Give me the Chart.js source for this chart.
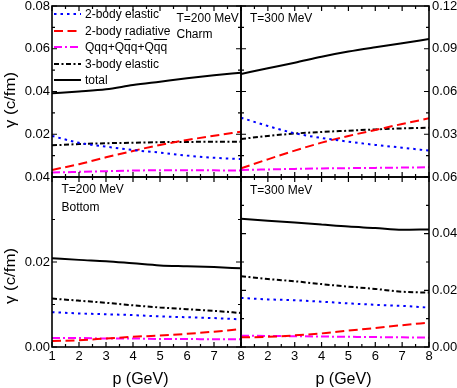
<!DOCTYPE html>
<html>
<head>
<meta charset="utf-8">
<script src="https://cdn.jsdelivr.net/npm/chart.js@4.4.1/dist/chart.umd.min.js"></script>
<style>
	body { margin: 0; background: #fff; overflow: hidden; }
	#fig { position: relative; width: 457px; height: 388px; font-family: "Liberation Sans", Arial, sans-serif; color: #000; }
	#fig canvas { position: absolute; left: 0; top: 0; }
	.note { position: absolute; font-size: 12px; line-height: 14px; white-space: nowrap; }
	.xtitle { position: absolute; font-size: 16px; line-height: 20px; white-space: nowrap; transform: translateX(-50%); }
	.ytitle { position: absolute; font-size: 15px; line-height: 16px; white-space: nowrap; transform: translate(-50%, -50%) rotate(-90deg) scaleX(1.12); }
	.legend { position: absolute; left: 54px; top: 6px; font-size: 12px; }
	.legend .row { display: flex; align-items: center; height: 16.5px; white-space: nowrap; }
	.legend svg { margin-right: 4px; }
	.bar { text-decoration: overline; }
</style>
</head>
<body>
<div id="fig">
	<canvas id="c200" width="457" height="388"></canvas>
	<canvas id="c300" width="457" height="388"></canvas>
	<canvas id="b200" width="457" height="388"></canvas>
	<canvas id="b300" width="457" height="388"></canvas>

	<div class="legend" id="legend"></div>

	<div class="note" style="left:176.5px; top:10.5px">T=200 MeV</div>
	<div class="note" style="left:176.5px; top:27.3px">Charm</div>
	<div class="note" style="left:250px; top:11.3px">T=300 MeV</div>
	<div class="note" style="left:61.5px; top:182.3px">T=200 MeV</div>
	<div class="note" style="left:61.5px; top:199.8px">Bottom</div>
	<div class="note" style="left:250px; top:183.3px">T=300 MeV</div>

	<div class="ytitle" style="left:9.5px; top:100px">γ (c/fm)</div>
	<div class="ytitle" style="left:9.5px; top:276px">γ (c/fm)</div>
	<div class="xtitle" style="left:140.5px; top:368.5px">p (GeV)</div>
	<div class="xtitle" style="left:343.5px; top:368.5px">p (GeV)</div>
</div>

<script>
	// momentum grid (GeV)
	const momentum = [1, 2, 3, 4, 5, 6, 7, 8]

	// x tick labels of the two bottom panels
	const pLabelsLeft = ["1", "2", "3", "4", "5", "6", "7", "8"]
	const pLabelsRight = ["2", "3", "4", "5", "6", "7", "8"]

	// y tick labels shown by each panel (0.00 of the upper row is hidden by the lower row)
	const yLabelsCharm200 = ["0.02", "0.04", "0.06", "0.08"]
	const yLabelsCharm300 = ["0.03", "0.06", "0.09", "0.12"]
	const yLabelsBottom200 = ["0.00", "0.02", "0.04"]
	const yLabelsBottom300 = ["0.00", "0.02", "0.04", "0.06"]

	// Charm, T = 200 MeV
	const charm200Elastic = [0.0192, 0.0160, 0.0142, 0.0126, 0.0114, 0.0100, 0.0090, 0.0084]
	const charm200Radiative = [0.0033, 0.0060, 0.0092, 0.0122, 0.0150, 0.0173, 0.0193, 0.0212]
	const charm200Qqq = [0.0021, 0.0024, 0.0027, 0.0030, 0.0032, 0.0032, 0.0031, 0.0030]
	const charm200ThreeBody = [0.0148, 0.0154, 0.0158, 0.0160, 0.0163, 0.0164, 0.0165, 0.0165]
	const charm200Total = [0.0392, 0.0400, 0.0410, 0.0430, 0.0446, 0.0462, 0.0476, 0.0488]

	// Charm, T = 300 MeV
	const charm300Elastic = [0.0416, 0.0358, 0.0307, 0.0274, 0.0248, 0.0225, 0.0206, 0.0185]
	const charm300Radiative = [0.0061, 0.0124, 0.0185, 0.0241, 0.0288, 0.0330, 0.0372, 0.0412]
	const charm300Qqq = [0.0049, 0.0053, 0.0057, 0.0060, 0.0062, 0.0064, 0.0066, 0.0068]
	const charm300ThreeBody = [0.0267, 0.0288, 0.0305, 0.0316, 0.0325, 0.0334, 0.0341, 0.0346]
	const charm300Total = [0.0723, 0.0763, 0.0802, 0.0844, 0.0880, 0.0910, 0.0938, 0.0968]

	// Bottom, T = 200 MeV
	const bottom200Elastic = [0.0082, 0.0079, 0.0077, 0.0075, 0.0072, 0.0070, 0.0068, 0.0065]
	const bottom200Radiative = [0.0014, 0.0016, 0.0020, 0.0024, 0.0027, 0.0031, 0.0036, 0.0042]
	const bottom200Qqq = [0.0021, 0.0021, 0.0020, 0.0020, 0.0019, 0.0019, 0.0018, 0.0018]
	const bottom200ThreeBody = [0.0114, 0.0109, 0.0104, 0.0098, 0.0093, 0.0089, 0.0085, 0.0080]
	const bottom200Total = [0.0209, 0.0205, 0.0202, 0.0197, 0.0192, 0.0190, 0.0188, 0.0185]

	// Bottom, T = 300 MeV
	const bottom300Elastic = [0.0173, 0.0168, 0.0165, 0.0160, 0.0154, 0.0149, 0.0145, 0.0139]
	const bottom300Radiative = [0.0034, 0.0036, 0.0041, 0.0048, 0.0058, 0.0067, 0.0077, 0.0086]
	const bottom300Qqq = [0.0040, 0.0039, 0.0038, 0.0037, 0.0036, 0.0035, 0.0034, 0.0033]
	const bottom300ThreeBody = [0.0250, 0.0240, 0.0232, 0.0222, 0.0213, 0.0205, 0.0195, 0.0192]
	const bottom300Total = [0.0453, 0.0446, 0.0439, 0.0432, 0.0425, 0.0420, 0.0414, 0.0415]

	const FONT = "'Liberation Sans', Arial, sans-serif"
	const W = 457
	const H = 388

	// one style per process, same order as the series lists below
	const styles = [
		{ label: "2-body elastic", html: "2-body elastic", color: "#0000ff", dash: [2.5, 4] },
		{ label: "2-body radiative", html: "2-body radiative", color: "#ff0000", dash: [9, 4.5] },
		{ label: "Qqq+Qq\u0305q+Qq\u0305q\u0305", html: "Qqq+Q<span class=\"bar\">q</span>q+Q<span class=\"bar\">qq</span>", color: "#ff00ff", dash: [8, 3, 2, 3] },
		{ label: "3-body elastic", html: "3-body elastic", color: "#000000", dash: [5, 2.5, 2, 2.5] },
		{ label: "total", html: "total", color: "#000000", dash: [] },
	]

	// frame around the plot area plus inward ticks on all four sides
	const frameTicks = {
		id: "frameTicks",
		afterDatasetsDraw(chart, args, opts) {
			const { ctx, chartArea: a } = chart
			const x = chart.scales.x
			const y = chart.scales.y
			ctx.save()
			ctx.strokeStyle = "#000"
			ctx.lineWidth = 1.2
			ctx.beginPath()
			for (let i = 0; x.min + i * 0.5 <= x.max + 1e-9; i++) {
				const px = x.getPixelForValue(x.min + i * 0.5)
				const len = i % 2 === 0 ? 5 : 3
				ctx.moveTo(px, a.bottom)
				ctx.lineTo(px, a.bottom - len)
				ctx.moveTo(px, a.top)
				ctx.lineTo(px, a.top + len)
			}
			const half = opts.yStep / 2
			for (let i = 0; i * half <= y.max + 1e-9; i++) {
				const py = y.getPixelForValue(i * half)
				const len = i % 2 === 0 ? 5 : 3
				ctx.moveTo(a.left, py)
				ctx.lineTo(a.left + len, py)
				ctx.moveTo(a.right, py)
				ctx.lineTo(a.right - len, py)
			}
			ctx.stroke()
			ctx.lineWidth = 1.6
			ctx.strokeRect(a.left, a.top, a.right - a.left, a.bottom - a.top)
			ctx.restore()
		},
	}

	function makePanel(id, box, series, yMax, yStep, yLabels, ySide, xLabels) {
		const yWidth = ySide === "left" ? 40 : 28
		const xHeight = xLabels ? 20 : 0
		const padding = {
			left: ySide === "left" ? box.left - yWidth : box.left,
			right: ySide === "right" ? W - box.right - yWidth : W - box.right,
			top: box.top,
			bottom: H - box.bottom - xHeight,
		}

		const datasets = series.map((values, i) => ({
			label: styles[i].label,
			data: momentum.map((p, j) => ({ x: p, y: values[j] })),
			borderColor: styles[i].color,
			backgroundColor: styles[i].color,
			borderDash: styles[i].dash,
			borderWidth: 2,
			pointRadius: 0,
			cubicInterpolationMode: "monotone",
			fill: false,
		}))

		return new Chart(document.getElementById(id), {
			type: "line",
			data: { datasets },
			plugins: [frameTicks],
			options: {
				responsive: false,
				animation: false,
				devicePixelRatio: 1,
				layout: { padding },
				plugins: {
					legend: { display: false },
					tooltip: { enabled: false },
					frameTicks: { yStep },
				},
				scales: {
					x: {
						type: "linear",
						min: 1,
						max: 8,
						grid: { display: false, drawTicks: false },
						border: { display: false },
						ticks: {
							display: !!xLabels,
							stepSize: 1,
							padding: 2,
							autoSkip: false,
							maxRotation: 0,
							color: "#000",
							font: { family: FONT, size: 13 },
							callback: (v) => (xLabels && xLabels.includes(String(v)) ? String(v) : ""),
						},
						afterFit: (s) => {
							s.height = xHeight
							s.paddingLeft = 0
							s.paddingRight = 0
						},
					},
					y: {
						type: "linear",
						position: ySide,
						min: 0,
						max: yMax,
						grid: { display: false, drawTicks: false },
						border: { display: false },
						ticks: {
							stepSize: yStep,
							padding: ySide === "left" ? 2 : 3,
							color: "#000",
							font: { family: FONT, size: 13 },
							callback: (v) => {
								const t = Number(v).toFixed(2)
								return yLabels.includes(t) ? t : ""
							},
						},
						afterFit: (s) => {
							s.width = yWidth
							s.paddingTop = 0
							s.paddingBottom = 0
						},
					},
				},
			},
		})
	}

	makePanel("c200", { left: 52, right: 241, top: 6, bottom: 177 },
		[charm200Elastic, charm200Radiative, charm200Qqq, charm200ThreeBody, charm200Total],
		0.08, 0.02, yLabelsCharm200, "left", null)

	makePanel("c300", { left: 241, right: 429, top: 6, bottom: 177 },
		[charm300Elastic, charm300Radiative, charm300Qqq, charm300ThreeBody, charm300Total],
		0.12, 0.03, yLabelsCharm300, "right", null)

	makePanel("b200", { left: 52, right: 241, top: 177, bottom: 347 },
		[bottom200Elastic, bottom200Radiative, bottom200Qqq, bottom200ThreeBody, bottom200Total],
		0.04, 0.02, yLabelsBottom200, "left", pLabelsLeft)

	makePanel("b300", { left: 241, right: 429, top: 177, bottom: 347 },
		[bottom300Elastic, bottom300Radiative, bottom300Qqq, bottom300ThreeBody, bottom300Total],
		0.06, 0.02, yLabelsBottom300, "right", pLabelsRight)

	// legend in the upper left panel, built from the same styles
	const legend = document.getElementById("legend")
	styles.forEach((s) => {
		const row = document.createElement("div")
		row.className = "row"
		const dash = s.dash.length ? ` stroke-dasharray="${s.dash.join(" ")}"` : ""
		row.innerHTML = `<svg width="27" height="16"><line x1="0" y1="8" x2="27" y2="8" stroke="${s.color}" stroke-width="2"${dash}/></svg><span>${s.html}</span>`
		legend.appendChild(row)
	})
</script>
</body>
</html>
